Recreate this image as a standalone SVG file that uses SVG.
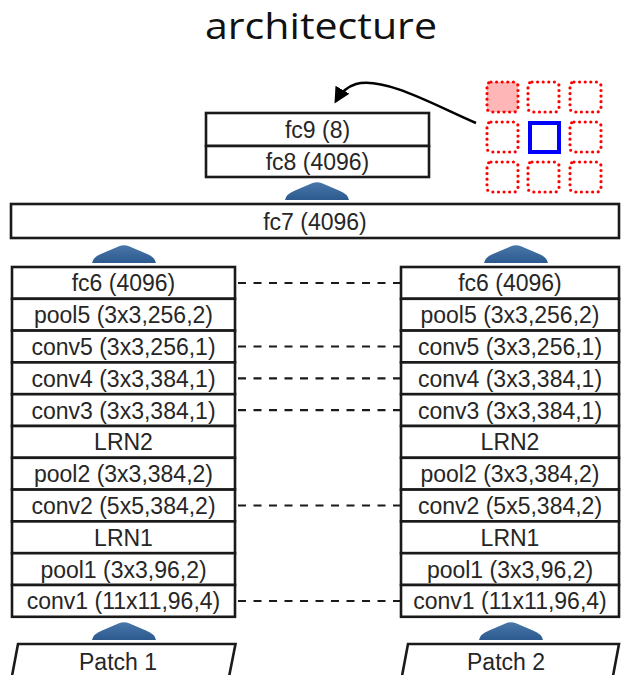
<svg xmlns="http://www.w3.org/2000/svg" width="621" height="675" viewBox="0 0 621 675">
  <defs>
    <style>
      .layer rect { fill: #ffffff; stroke: #1a1a1a; stroke-width: 2.6; }
      .layer text, .patch text { font-family: "Liberation Sans", Arial, sans-serif; font-size: 23px; fill: #262626; text-anchor: middle; }
      .patch polygon { fill: #ffffff; stroke: #1a1a1a; stroke-width: 2.6; stroke-linejoin: miter; }
      .tie { stroke: #1a1a1a; stroke-width: 2.2; stroke-dasharray: 8 7.5; fill: none; }
      .cell { fill: none; stroke: #ff0000; stroke-width: 3.2; stroke-dasharray: 0 5.6; stroke-linecap: round; }
      .title { font-family: "Open Sans", "Liberation Sans", sans-serif; font-size: 36px; fill: #111111; text-anchor: middle; }
    </style>
    <linearGradient id="flowFill" x1="0" y1="0" x2="0" y2="1">
      <stop offset="0" stop-color="#4a77aa"/>
      <stop offset="1" stop-color="#2c5a8e"/>
    </linearGradient>
    <!-- wide rounded upward arrow between stages -->
    <path id="flow" d="M -32 18 Q -31 12 -22 8.5 L -5 1.2 Q 0 -0.8 5 1.2 L 22 8.5 Q 31 12 32 18 Z" fill="url(#flowFill)"/>
    <marker id="head" markerWidth="16" markerHeight="16" refX="13" refY="8" orient="auto" markerUnits="userSpaceOnUse" viewBox="0 0 16 16">
      <path d="M0,0 L16,8 L0,16 Z" fill="#000000"/>
    </marker>
  </defs>

  <text class="title" x="321" y="39" textLength="232" lengthAdjust="spacingAndGlyphs">architecture</text>

  <!-- position grid: 3x3 dotted cells, centre patch in blue -->
  <g id="grid">
    <rect class="cell" x="487" y="82" width="31" height="30" rx="4" style="fill:#ffb6b6"/>
    <rect class="cell" x="528" y="82" width="31" height="30" rx="4"/>
    <rect class="cell" x="570" y="82" width="31" height="30" rx="4"/>
    <rect class="cell" x="487" y="122" width="31" height="30" rx="4"/>
    <rect x="530" y="123" width="29" height="29" fill="none" stroke="#0000ff" stroke-width="4"/>
    <rect class="cell" x="570" y="122" width="31" height="30" rx="4"/>
    <rect class="cell" x="487" y="162" width="31" height="30" rx="4"/>
    <rect class="cell" x="528" y="162" width="31" height="30" rx="4"/>
    <rect class="cell" x="570" y="162" width="31" height="30" rx="4"/>
  </g>

  <!-- classifier head -->
  <g id="fc9" class="layer">
    <rect x="206" y="113" width="223" height="33"/>
    <text x="317.5" y="138">fc9 (8)</text>
  </g>
  <g id="fc8" class="layer">
    <rect x="206" y="146" width="223" height="31"/>
    <text x="317.5" y="169.5">fc8 (4096)</text>
  </g>

  <g id="fc7" class="layer">
    <rect x="11" y="204" width="608" height="34"/>
    <text x="315" y="229.5">fc7 (4096)</text>
  </g>

  <!-- left tower -->
  <g id="left-tower">
    <g id="l-fc6" class="layer"><rect x="12" y="267" width="223" height="31.8"/><text x="123.5" y="291.4">fc6 (4096)</text></g>
    <g id="l-pool5" class="layer"><rect x="12" y="298.8" width="223" height="31.8"/><text x="123.5" y="323.2">pool5 (3x3,256,2)</text></g>
    <g id="l-conv5" class="layer"><rect x="12" y="330.6" width="223" height="31.8"/><text x="123.5" y="355">conv5 (3x3,256,1)</text></g>
    <g id="l-conv4" class="layer"><rect x="12" y="362.4" width="223" height="31.8"/><text x="123.5" y="386.8">conv4 (3x3,384,1)</text></g>
    <g id="l-conv3" class="layer"><rect x="12" y="394.2" width="223" height="31.8"/><text x="123.5" y="418.6">conv3 (3x3,384,1)</text></g>
    <g id="l-lrn2" class="layer"><rect x="12" y="426" width="223" height="31.8"/><text x="123.5" y="450.4">LRN2</text></g>
    <g id="l-pool2" class="layer"><rect x="12" y="457.8" width="223" height="31.8"/><text x="123.5" y="482.2">pool2 (3x3,384,2)</text></g>
    <g id="l-conv2" class="layer"><rect x="12" y="489.6" width="223" height="31.8"/><text x="123.5" y="514">conv2 (5x5,384,2)</text></g>
    <g id="l-lrn1" class="layer"><rect x="12" y="521.4" width="223" height="31.8"/><text x="123.5" y="545.8">LRN1</text></g>
    <g id="l-pool1" class="layer"><rect x="12" y="553.2" width="223" height="31.8"/><text x="123.5" y="577.6">pool1 (3x3,96,2)</text></g>
    <g id="l-conv1" class="layer"><rect x="12" y="585" width="223" height="31.8"/><text x="123.5" y="609.4">conv1 (11x11,96,4)</text></g>
  </g>

  <!-- right tower -->
  <g id="right-tower">
    <g id="r-fc6" class="layer"><rect x="401" y="267" width="218" height="31.8"/><text x="510" y="291.4">fc6 (4096)</text></g>
    <g id="r-pool5" class="layer"><rect x="401" y="298.8" width="218" height="31.8"/><text x="510" y="323.2">pool5 (3x3,256,2)</text></g>
    <g id="r-conv5" class="layer"><rect x="401" y="330.6" width="218" height="31.8"/><text x="510" y="355">conv5 (3x3,256,1)</text></g>
    <g id="r-conv4" class="layer"><rect x="401" y="362.4" width="218" height="31.8"/><text x="510" y="386.8">conv4 (3x3,384,1)</text></g>
    <g id="r-conv3" class="layer"><rect x="401" y="394.2" width="218" height="31.8"/><text x="510" y="418.6">conv3 (3x3,384,1)</text></g>
    <g id="r-lrn2" class="layer"><rect x="401" y="426" width="218" height="31.8"/><text x="510" y="450.4">LRN2</text></g>
    <g id="r-pool2" class="layer"><rect x="401" y="457.8" width="218" height="31.8"/><text x="510" y="482.2">pool2 (3x3,384,2)</text></g>
    <g id="r-conv2" class="layer"><rect x="401" y="489.6" width="218" height="31.8"/><text x="510" y="514">conv2 (5x5,384,2)</text></g>
    <g id="r-lrn1" class="layer"><rect x="401" y="521.4" width="218" height="31.8"/><text x="510" y="545.8">LRN1</text></g>
    <g id="r-pool1" class="layer"><rect x="401" y="553.2" width="218" height="31.8"/><text x="510" y="577.6">pool1 (3x3,96,2)</text></g>
    <g id="r-conv1" class="layer"><rect x="401" y="585" width="218" height="31.8"/><text x="510" y="609.4">conv1 (11x11,96,4)</text></g>
  </g>

  <!-- input patches -->
  <g id="patch1" class="patch">
    <polygon points="18,644 235.5,644 226,692 9,692"/>
    <text x="118" y="670">Patch 1</text>
  </g>
  <g id="patch2" class="patch">
    <polygon points="408,644 619,644 610,692 399,692"/>
    <text x="506" y="670">Patch 2</text>
  </g>

  <!-- connectors -->
  <g id="connectors">
    <!-- shared weights between towers -->
    <line class="tie" x1="238" y1="283" x2="400" y2="283"/>
    <line class="tie" x1="238" y1="346.5" x2="400" y2="346.5"/>
    <line class="tie" x1="238" y1="378.3" x2="400" y2="378.3"/>
    <line class="tie" x1="238" y1="410.1" x2="400" y2="410.1"/>
    <line class="tie" x1="238" y1="505.5" x2="400" y2="505.5"/>
    <line class="tie" x1="238" y1="601" x2="400" y2="601"/>

    <!-- forward flow -->
    <use href="#flow" x="124" y="622"/>
    <use href="#flow" x="511" y="622"/>
    <use href="#flow" x="124" y="245"/>
    <use href="#flow" x="516" y="245"/>
    <use href="#flow" x="317" y="182"/>

    <!-- prediction pointing back to fc9 -->
    <path d="M476,123 C440,108 385,76 356,84 C346,87 340,94 336,101" fill="none" stroke="#000000" stroke-width="2.6" marker-end="url(#head)"/>
  </g>
</svg>
